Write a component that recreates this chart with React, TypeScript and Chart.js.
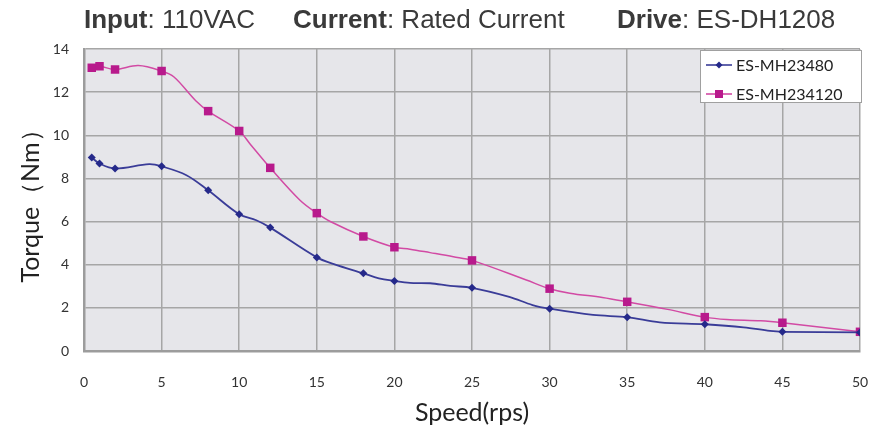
import React, { useEffect, useRef } from "react";
import { Chart, registerables } from "chart.js";

Chart.register(...registerables);

const seriesNames = ["ES-MH23480", "ES-MH234120"];

// ES-MH23480 (blue, diamonds)
const speedA = [0.5, 1, 2, 4.2, 5, 6.6, 8, 10, 11.1, 12, 15, 16.1, 18, 19, 20, 21, 22.3, 23.6, 25, 27.4, 28.9, 30, 32.8, 35, 37.1, 40, 42.5, 44.2, 45, 50];
const torqueA = [8.97, 8.69, 8.46, 8.66, 8.56, 8.15, 7.45, 6.34, 6.06, 5.72, 4.34, 4.03, 3.6, 3.37, 3.25, 3.16, 3.14, 3.02, 2.93, 2.51, 2.13, 1.96, 1.67, 1.57, 1.33, 1.24, 1.1, 0.93, 0.89, 0.86];

// ES-MH234120 (magenta, squares)
const speedB = [0.5, 1, 2, 3.5, 5, 5.8, 7.2, 8, 10, 10.7, 12, 13.9, 15, 15.9, 18, 20, 21, 22.3, 23.8, 25, 28.5, 30, 31.3, 33.4, 35, 37.6, 40, 41.4, 43.6, 45, 50];
const torqueB = [13.13, 13.2, 13.05, 13.23, 12.98, 12.7, 11.6, 11.12, 10.2, 9.6, 8.49, 7.0, 6.39, 5.99, 5.31, 4.81, 4.72, 4.56, 4.37, 4.2, 3.29, 2.89, 2.68, 2.48, 2.28, 1.93, 1.57, 1.46, 1.4, 1.31, 0.89];

// speeds at which markers are drawn
const markerSpeeds = [0.5, 1, 2, 5, 8, 10, 12, 15, 18, 20, 25, 30, 35, 40, 45, 50];

const xMin = 0, xMax = 50, xStep = 5;
const yMin = 0, yMax = 14, yStep = 2;

const titleParts = [
  { bold: "Input", rest: ": 110VAC" },
  { bold: "Current", rest: ": Rated Current" },
  { bold: "Drive", rest: ": ES-DH1208" },
];
const xTitle = "Speed(rps)";
const yTitle = "Torque（Nm）";

const blueLine = "#3A3C98";
const blueMark = "#25298A";
const pinkLine = "#D24AA4";
const pinkMark = "#B81A8C";

export default function App() {
  const ref = useRef<HTMLCanvasElement>(null);

  useEffect(() => {
    const bg = {
      id: "plotBg",
      beforeDraw(chart: any) {
        const { ctx, chartArea: a } = chart;
        ctx.save();
        ctx.fillStyle = "#E6E6EA";
        ctx.fillRect(a.left, a.top, a.right - a.left, a.bottom - a.top);
        ctx.restore();
      },
    };
    const legend = {
      id: "boxLegend",
      afterDraw(chart: any) {
        const { ctx, chartArea: a } = chart;
        const left = a.right - 160, top = a.top + 1, right = a.right + 2, bottom = a.top + 54;
        ctx.save();
        ctx.fillStyle = "#FFFFFF";
        ctx.fillRect(left, top, right - left, bottom - top);
        ctx.strokeStyle = "#A0A0A0";
        ctx.lineWidth = 1;
        ctx.strokeRect(left + 0.5, top + 0.5, right - left - 1, bottom - top - 1);
        const rows = [
          { y: top + 15, line: blueLine, mark: blueMark, shape: "diamond" },
          { y: top + 44, line: pinkLine, mark: pinkMark, shape: "square" },
        ];
        rows.forEach((r, i) => {
          ctx.strokeStyle = r.line;
          ctx.lineWidth = 1.6;
          ctx.beginPath();
          ctx.moveTo(left + 6, r.y);
          ctx.lineTo(left + 32, r.y);
          ctx.stroke();
          ctx.fillStyle = r.mark;
          const cx = left + 19;
          if (r.shape === "square") {
            ctx.fillRect(cx - 4, r.y - 4, 8, 8);
          } else {
            ctx.beginPath();
            ctx.moveTo(cx, r.y - 3.5);
            ctx.lineTo(cx + 3.5, r.y);
            ctx.lineTo(cx, r.y + 3.5);
            ctx.lineTo(cx - 3.5, r.y);
            ctx.closePath();
            ctx.fill();
          }
          ctx.fillStyle = "#222222";
          ctx.font = "16px Lato";
          ctx.textBaseline = "middle";
          ctx.textAlign = "left";
          ctx.fillText(chart.data.datasets[i].label, left + 36, r.y + 1);
        });
        ctx.restore();
      },
    };

    const mk = (xs: number[], ys: number[]) => xs.map((x, i) => ({ x, y: ys[i] }));
    const radii = (xs: number[], r: number) => xs.map((x) => (markerSpeeds.includes(x) ? r : 0));

    const axisFont = { family: "Lato", size: 25 };
    const tickFont = { family: "Lato", size: 14 };

    const chart = new Chart(ref.current!, {
      type: "line",
      data: {
        datasets: [
          {
            label: seriesNames[0],
            data: mk(speedA, torqueA),
            borderColor: blueLine,
            borderWidth: 1.8,
            backgroundColor: blueMark,
            pointBackgroundColor: blueMark,
            pointBorderColor: blueMark,
            pointBorderWidth: 0,
            pointStyle: "rectRot",
            pointRadius: radii(speedA, 4),
            tension: 0.35,
          },
          {
            label: seriesNames[1],
            data: mk(speedB, torqueB),
            borderColor: pinkLine,
            borderWidth: 1.5,
            backgroundColor: pinkMark,
            pointBackgroundColor: pinkMark,
            pointBorderColor: pinkMark,
            pointBorderWidth: 0,
            pointStyle: "rect",
            pointRadius: radii(speedB, 6),
            tension: 0.35,
          },
        ],
      },
      options: {
        responsive: false,
        animation: false,
        layout: { padding: { left: 0, top: 49, right: 11, bottom: 0 } },
        plugins: { legend: { display: false }, tooltip: { enabled: false }, title: { display: false } },
        scales: {
          x: {
            type: "linear",
            min: xMin,
            max: xMax,
            ticks: { stepSize: xStep, color: "#333333", font: tickFont, padding: 23, maxRotation: 0 },
            grid: { color: "#A6A6A6", lineWidth: 1.5, drawTicks: false },
            border: { color: "#9C9C9C", width: 2.5 },
            title: { display: true, text: xTitle, color: "#222222", font: axisFont, padding: { top: 0, bottom: 6 } },
            afterFit(s: any) { s.height = 83; s.paddingLeft = 0; s.paddingRight = 0; },
          },
          y: {
            type: "linear",
            min: yMin,
            max: yMax,
            ticks: { stepSize: yStep, color: "#333333", font: tickFont, padding: 15 },
            grid: { color: "#A6A6A6", lineWidth: 1.5, drawTicks: false },
            border: { color: "#9C9C9C", width: 2.5 },
            title: { display: true, text: yTitle, color: "#222222", font: axisFont, padding: { top: 16, bottom: 0 } },
            afterFit(s: any) { s.width = 84; s.paddingTop = 0; s.paddingBottom = 0; },
          },
        },
      },
      plugins: [bg, legend],
    } as any);
    return () => chart.destroy();
  }, []);

  const lefts = [84, 293, 617];
  return (
    <div style={{ position: "fixed", left: 0, top: 0, width: 871, height: 434, background: "#FFFFFF", overflow: "hidden" }}>
      <canvas ref={ref} width={871} height={434} style={{ position: "absolute", left: 0, top: 0, width: 871, height: 434 }} />
      {titleParts.map((p, i) => (
        <div
          key={i}
          style={{
            position: "absolute",
            left: lefts[i],
            top: 6,
            fontFamily: "'Liberation Sans', Arial, sans-serif",
            fontSize: 26,
            lineHeight: "26px",
            color: "#3A3A3A",
            whiteSpace: "nowrap",
          }}
        >
          <b>{p.bold}</b>
          {p.rest}
        </div>
      ))}
    </div>
  );
}
